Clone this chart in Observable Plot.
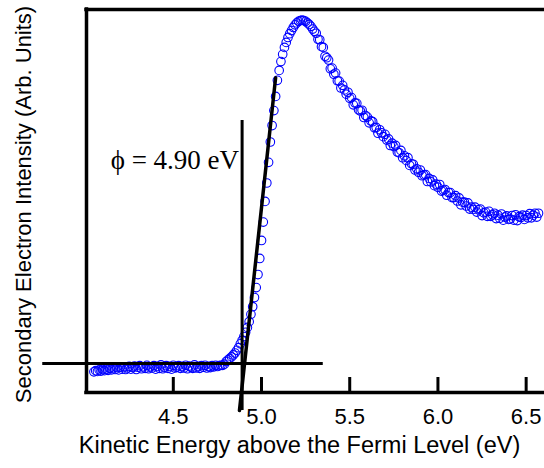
<!DOCTYPE html>
<html><head><meta charset="utf-8">
<script src="https://cdn.jsdelivr.net/npm/d3@7"></script>
<script src="https://cdn.jsdelivr.net/npm/@observablehq/plot@0.6"></script>
<style>
html,body{margin:0;padding:0;background:#fff;overflow:hidden}
</style></head><body><div id="chart"></div>
<script>
// Spectrum, sampled every 0.01 eV, three consecutive segments
const energyStep = 0.01;
const flatStart = 4.05;   // 4.05 .. 4.77
const flatIntensity = [
  5.4,5.7,5.5,5.9,5.6,6.0,5.7,6.1,5.8,6.3,
  5.9,6.4,6.0,6.5,5.9,6.6,6.1,6.7,6.0,6.4,
  6.8,6.1,6.5,6.9,6.0,6.6,7.0,6.2,6.7,6.3,
  7.1,6.2,6.7,6.4,7.0,6.1,6.8,6.3,7.2,6.2,
  6.6,7.0,6.3,6.8,6.1,7.1,6.4,6.6,7.0,6.3,
  6.8,6.4,7.1,6.2,6.9,6.6,6.3,7.2,6.4,6.8,
  6.3,7.0,6.6,7.1,6.4,6.8,6.5,7.0,6.7,7.1,
  6.8,7.0,7.1
];
const riseStart = 4.78;   // 4.78 .. 5.30
const riseIntensity = [
  7.1,7.4,8.1,8.5,8.9,9.3,9.8,10.3,11.0,11.7,
  12.7,13.6,14.6,15.7,17.0,18.5,20.4,22.4,24.8,27.4,
  30.8,35.0,39.7,44.5,49.9,54.7,60.1,65.4,69.7,73.6,
  77.3,81.5,84.1,86.4,88.3,90.1,91.4,92.7,93.7,94.5,
  95.3,96.0,96.5,96.9,97.1,97.2,97.1,96.9,96.5,96.1,
  95.6,94.9,94.3
];
const tailStart = 5.31;   // 5.31 .. 6.57
const tailIntensity = [
  93.8,92.2,92.1,90.3,90.1,87.8,87.4,86.8,84.5,84.7,
  83.1,83.4,81.4,81.3,79.5,80.2,79.0,77.9,78.4,76.8,
  77.0,75.1,75.6,75.5,73.8,73.5,73.7,71.8,72.3,71.9,
  70.4,70.9,70.7,69.1,69.2,67.7,68.6,67.8,66.8,67.4,
  65.9,66.2,64.5,65.1,64.2,64.5,62.8,62.6,63.2,61.3,
  61.8,60.6,61.3,59.3,59.7,59.6,58.1,58.4,57.5,58.1,
  56.6,56.8,56.9,55.1,55.9,55.0,55.5,54.0,54.4,53.6,
  54.3,52.6,52.8,53.0,51.5,52.2,52.2,50.9,50.9,51.4,
  50.0,50.8,49.0,49.7,49.7,48.7,49.5,47.9,48.4,47.8,
  48.4,47.1,47.7,47.9,46.2,46.9,47.1,46.0,47.3,46.0,
  46.4,46.8,45.4,46.3,45.5,46.6,45.0,45.8,46.1,45.2,
  45.3,46.2,45.0,46.4,44.9,45.9,45.7,46.3,45.2,46.2,
  45.6,46.7,45.6,46.3,46.8,45.8,46.8
];

// Axis
const xDomain = [4.008, 6.604];
const yDomain = [0, 100];
const xTicks = [4.5, 5.0, 5.5, 6.0, 6.5];
const xLabel = "Kinetic Energy above the Fermi Level (eV)";
const yLabel = "Secondary Electron Intensity (Arb. Units)";

// Annotations (work-function construction)
const baselineFit = [{x1: 3.76, x2: 5.35, y: 7.6}];
const tangentFit = [{x: 4.875, y: -4.7}, {x: 5.08, y: 82.2}];
const cutoffLine = [{x: 4.89, y1: -4.7, y2: 71.0}];
const phiLabel = [{x: 4.89, y: 60.6, text: "\u03D5 = 4.90 eV"}];

const segment = (start, values) =>
  values.map((v, i) => ({energy: +(start + i * energyStep).toFixed(2), intensity: v}));
const spectrum = [
  ...segment(flatStart, flatIntensity),
  ...segment(riseStart, riseIntensity),
  ...segment(tailStart, tailIntensity)
];

const chart = Plot.plot({
  width: 544,
  height: 468,
  marginLeft: 86,
  marginRight: 0,
  marginTop: 9,
  marginBottom: 76,
  style: {fontFamily: "'Liberation Sans', Arial, sans-serif", background: "white", overflow: "visible", color: "black"},
  x: {domain: xDomain, label: null},
  y: {domain: yDomain, axis: null},
  marks: [
    Plot.dot(spectrum, {x: "energy", y: "intensity", r: 4.3, stroke: "#0000ff", strokeWidth: 1.1, fill: "none"}),
    // frame: left, bottom, top
    Plot.ruleX([xDomain[0]], {y1: yDomain[0], y2: yDomain[1], strokeWidth: 3.5, strokeLinecap: "square"}),
    Plot.ruleY([yDomain[0], yDomain[1]], {x1: xDomain[0], x2: xDomain[1], strokeWidth: 3.5, strokeLinecap: "square"}),
    Plot.tickX(xTicks, {x: d => d, insetTop: 368, strokeWidth: 3}),
    Plot.axisX(xTicks, {tickSize: 0, tickPadding: 16, fontSize: 22, tickFormat: d3.format(".1f"), label: null}),
    // construction lines
    Plot.ruleY(baselineFit, {y: "y", x1: "x1", x2: "x2", strokeWidth: 3}),
    Plot.ruleX(cutoffLine, {x: "x", y1: "y1", y2: "y2", strokeWidth: 3}),
    Plot.line(tangentFit, {x: "x", y: "y", strokeWidth: 3.5}),
    Plot.text(phiLabel, {x: "x", y: "y", text: "text", textAnchor: "end", lineAnchor: "middle", dx: -3, fontSize: 27, fontFamily: "'Liberation Serif', 'Times New Roman', serif", fill: "black"}),
    // axis titles
    Plot.text([xLabel], {frameAnchor: "bottom", textAnchor: "middle", lineAnchor: "middle", dx: -16, dy: 53, fontSize: 23.5, fill: "black"}),
    Plot.text([yLabel], {frameAnchor: "left", textAnchor: "middle", lineAnchor: "middle", rotate: -90, dx: -63, dy: 3.5, fontSize: 22, fill: "black"})
  ]
});
document.getElementById("chart").appendChild(chart);
</script>
</body></html>
